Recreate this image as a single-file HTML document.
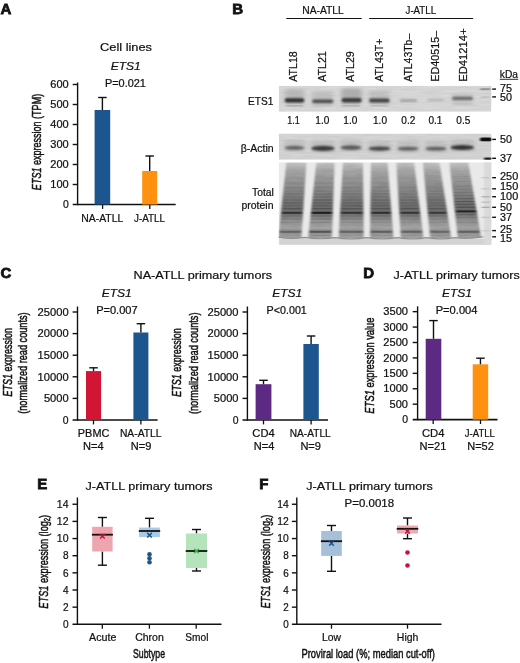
<!DOCTYPE html>
<html lang="en"><head><meta charset="utf-8"><title>ETS1 expression in ATLL</title>
<style>
html,body{margin:0;padding:0;background:#fff;}
body{width:520px;height:663px;overflow:hidden;font-family:"Liberation Sans", Arial, Helvetica, sans-serif;}
svg{display:block;will-change:transform;}
text{font-kerning:normal;stroke:#111;stroke-width:0.22px;}
</style></head><body>
<svg width="520" height="663" viewBox="0 0 520 663" font-family='"Liberation Sans", Arial, Helvetica, sans-serif'>
<defs>
<filter id="b1" x="-20%" y="-100%" width="140%" height="300%"><feGaussianBlur stdDeviation="1.1 0.9"/></filter>
<filter id="b2" x="-20%" y="-100%" width="140%" height="300%"><feGaussianBlur stdDeviation="0.8 0.6"/></filter>
<filter id="b3" x="-20%" y="-20%" width="140%" height="140%"><feGaussianBlur stdDeviation="2.2 1.2"/></filter>
<filter id="b4" x="-20%" y="-20%" width="140%" height="140%"><feGaussianBlur stdDeviation="1.1 0.7"/></filter>
<filter id="noise" x="0" y="0" width="100%" height="100%">
  <feTurbulence type="fractalNoise" baseFrequency="0.05 0.55" numOctaves="2" seed="7" result="n"/>
  <feColorMatrix in="n" type="matrix" values="0 0 0 0 0  0 0 0 0 0  0 0 0 0 0  1.6 0 0 0 -0.45"/>
  <feComposite in2="SourceGraphic" operator="in"/>
</filter>
<filter id="noise2" x="0" y="0" width="100%" height="100%">
  <feTurbulence type="fractalNoise" baseFrequency="0.09 0.4" numOctaves="2" seed="11" result="n"/>
  <feColorMatrix in="n" type="matrix" values="0 0 0 0 0  0 0 0 0 0  0 0 0 0 0  1.8 0 0 0 -0.5"/>
  <feComposite in2="SourceGraphic" operator="in"/>
</filter>
<linearGradient id="laneg" gradientUnits="userSpaceOnUse" x1="0" y1="162.5" x2="0" y2="238">
  <stop offset="0.000" stop-color="#cacaca"/>
  <stop offset="0.046" stop-color="#b8b8b8"/>
  <stop offset="0.113" stop-color="#a6a6a6"/>
  <stop offset="0.205" stop-color="#9a9a9a"/>
  <stop offset="0.311" stop-color="#8e8e8e"/>
  <stop offset="0.430" stop-color="#808080"/>
  <stop offset="0.536" stop-color="#727272"/>
  <stop offset="0.629" stop-color="#6c6c6c"/>
  <stop offset="0.695" stop-color="#767676"/>
  <stop offset="0.748" stop-color="#8c8c8c"/>
  <stop offset="0.815" stop-color="#9a9a9a"/>
  <stop offset="0.868" stop-color="#a6a6a6"/>
  <stop offset="0.918" stop-color="#848484"/>
  <stop offset="0.960" stop-color="#a4a4a4"/>
  <stop offset="1.000" stop-color="#9c9c9c"/>
</linearGradient>
<clipPath id="cE"><rect x="278.7" y="85.8" width="212.8" height="26"/></clipPath>
<clipPath id="cA"><rect x="278.7" y="133.6" width="212.8" height="26.1"/></clipPath>
<clipPath id="cT"><rect x="278.7" y="162.3" width="212.8" height="82.5"/></clipPath>
</defs>
<rect x="0" y="0" width="520" height="663" fill="#fff" />
<text x="0.5" y="13.7" font-size="15" text-anchor="start" font-weight="bold" fill="#111" style="stroke:#111;stroke-width:0.8px;stroke-linejoin:miter">A</text>
<text x="232.3" y="13.7" font-size="15" text-anchor="start" font-weight="bold" fill="#111" style="stroke:#111;stroke-width:0.8px;stroke-linejoin:miter">B</text>
<text x="0.5" y="278.3" font-size="15" text-anchor="start" font-weight="bold" fill="#111" style="stroke:#111;stroke-width:0.8px;stroke-linejoin:miter">C</text>
<text x="363.3" y="278.2" font-size="15" text-anchor="start" font-weight="bold" fill="#111" style="stroke:#111;stroke-width:0.8px;stroke-linejoin:miter">D</text>
<text x="37.3" y="489.1" font-size="15" text-anchor="start" font-weight="bold" fill="#111" style="stroke:#111;stroke-width:0.8px;stroke-linejoin:miter">E</text>
<text x="259.2" y="489.2" font-size="15" text-anchor="start" font-weight="bold" fill="#111" style="stroke:#111;stroke-width:0.8px;stroke-linejoin:miter">F</text>
<text x="126" y="50.8" font-size="11.6" text-anchor="middle" textLength="52" lengthAdjust="spacingAndGlyphs" fill="#111" >Cell lines</text>
<text x="125.8" y="69.5" font-size="11.7" text-anchor="middle" font-style="italic" textLength="30" lengthAdjust="spacingAndGlyphs" fill="#111" >ETS1</text>
<text x="125.4" y="86.6" font-size="10.1" text-anchor="middle" textLength="41" lengthAdjust="spacingAndGlyphs" fill="#111" >P=0.021</text>
<line x1="77.6" y1="82.5" x2="77.6" y2="205.2" stroke="#111" stroke-width="1.4"/>
<line x1="72.69999999999999" y1="204.5" x2="175.7" y2="204.5" stroke="#111" stroke-width="1.5999999999999999"/>
<text x="68.69999999999999" y="208.2" font-size="10.3" text-anchor="end" textLength="5.8" lengthAdjust="spacingAndGlyphs" fill="#111" >0</text>
<line x1="72.69999999999999" y1="184.5" x2="77.6" y2="184.5" stroke="#111" stroke-width="1.4"/>
<text x="68.69999999999999" y="188.2" font-size="10.3" text-anchor="end" textLength="18.4" lengthAdjust="spacingAndGlyphs" fill="#111" >100</text>
<line x1="72.69999999999999" y1="164.5" x2="77.6" y2="164.5" stroke="#111" stroke-width="1.4"/>
<text x="68.69999999999999" y="168.2" font-size="10.3" text-anchor="end" textLength="18.4" lengthAdjust="spacingAndGlyphs" fill="#111" >200</text>
<line x1="72.69999999999999" y1="144.5" x2="77.6" y2="144.5" stroke="#111" stroke-width="1.4"/>
<text x="68.69999999999999" y="148.2" font-size="10.3" text-anchor="end" textLength="18.4" lengthAdjust="spacingAndGlyphs" fill="#111" >300</text>
<line x1="72.69999999999999" y1="124.5" x2="77.6" y2="124.5" stroke="#111" stroke-width="1.4"/>
<text x="68.69999999999999" y="128.2" font-size="10.3" text-anchor="end" textLength="18.4" lengthAdjust="spacingAndGlyphs" fill="#111" >400</text>
<line x1="72.69999999999999" y1="104.5" x2="77.6" y2="104.5" stroke="#111" stroke-width="1.4"/>
<text x="68.69999999999999" y="108.2" font-size="10.3" text-anchor="end" textLength="18.4" lengthAdjust="spacingAndGlyphs" fill="#111" >500</text>
<line x1="72.69999999999999" y1="84.5" x2="77.6" y2="84.5" stroke="#111" stroke-width="1.4"/>
<text x="68.69999999999999" y="88.2" font-size="10.3" text-anchor="end" textLength="18.4" lengthAdjust="spacingAndGlyphs" fill="#111" >600</text>
<line x1="102.6" y1="204.5" x2="102.6" y2="208.9" stroke="#111" stroke-width="1.2999999999999998"/>
<line x1="149.8" y1="204.5" x2="149.8" y2="208.9" stroke="#111" stroke-width="1.2999999999999998"/>
<rect x="94.6" y="110" width="15.600000000000009" height="94.5" fill="#1d568f" />
<line x1="102.4" y1="97.5" x2="102.4" y2="110" stroke="#111" stroke-width="1.4"/>
<line x1="98.15" y1="97.5" x2="106.65" y2="97.5" stroke="#111" stroke-width="1.4"/>
<rect x="142.2" y="171" width="15.0" height="33.5" fill="#ff9110" />
<line x1="149.7" y1="156" x2="149.7" y2="171" stroke="#111" stroke-width="1.4"/>
<line x1="145.45" y1="156" x2="153.95" y2="156" stroke="#111" stroke-width="1.4"/>
<text x="102.3" y="222.3" font-size="10.5" text-anchor="middle" textLength="42" lengthAdjust="spacingAndGlyphs" fill="#111" >NA-ATLL</text>
<text x="149.5" y="222.3" font-size="10.5" text-anchor="middle" textLength="31" lengthAdjust="spacingAndGlyphs" fill="#111" >J-ATLL</text>
<text transform="translate(40.6,142) rotate(-90)" font-size="13.5" text-anchor="middle" textLength="96.3" lengthAdjust="spacingAndGlyphs" style="stroke-width:0.5px" fill="#111" ><tspan font-style="italic">ETS1</tspan> expression (TPM)</text>
<text x="323" y="13.8" font-size="10.8" text-anchor="middle" textLength="41.5" lengthAdjust="spacingAndGlyphs" fill="#111" >NA-ATLL</text>
<text x="420.8" y="13.8" font-size="10.8" text-anchor="middle" textLength="30.5" lengthAdjust="spacingAndGlyphs" fill="#111" >J-ATLL</text>
<line x1="286.3" y1="18.5" x2="361.7" y2="18.5" stroke="#111" stroke-width="1.1"/>
<line x1="369.2" y1="18.5" x2="473.2" y2="18.5" stroke="#111" stroke-width="1.1"/>
<text transform="translate(297.3,81.8) rotate(-90)" font-size="10.8" text-anchor="start" textLength="30.6" lengthAdjust="spacingAndGlyphs" fill="#111" >ATL18</text>
<text transform="translate(325.5,81.8) rotate(-90)" font-size="10.8" text-anchor="start" textLength="30.6" lengthAdjust="spacingAndGlyphs" fill="#111" >ATL21</text>
<text transform="translate(354.2,81.8) rotate(-90)" font-size="10.8" text-anchor="start" textLength="30.6" lengthAdjust="spacingAndGlyphs" fill="#111" >ATL29</text>
<text transform="translate(383.1,81.8) rotate(-90)" font-size="10.8" text-anchor="start" textLength="43.3" lengthAdjust="spacingAndGlyphs" fill="#111" >ATL43T+</text>
<text transform="translate(411.8,81.8) rotate(-90)" font-size="10.8" text-anchor="start" textLength="48" lengthAdjust="spacingAndGlyphs" fill="#111" >ATL43Tb–</text>
<text transform="translate(439.3,81.8) rotate(-90)" font-size="10.8" text-anchor="start" textLength="51" lengthAdjust="spacingAndGlyphs" fill="#111" >ED40515–</text>
<text transform="translate(467,81.8) rotate(-90)" font-size="10.8" text-anchor="start" textLength="53.5" lengthAdjust="spacingAndGlyphs" fill="#111" >ED41214+</text>
<text x="499.8" y="77.6" font-size="10.8" text-anchor="start" textLength="18.2" lengthAdjust="spacingAndGlyphs" fill="#111" >kDa</text>
<line x1="499.8" y1="79.3" x2="518.2" y2="79.3" stroke="#111" stroke-width="0.9"/>
<g clip-path="url(#cE)">
<rect x="278.7" y="85.8" width="212.8" height="26" fill="#d9d9d9" />
<rect x="278.7" y="85.8" width="212.8" height="26" fill="#000" filter="url(#noise)" opacity="0.05"/>
<rect x="284.8" y="90.3" width="19.399999999999977" height="14" fill="#aaa" filter="url(#b3)" opacity="0.5"/>
<rect x="312.2" y="91.2" width="21.0" height="14" fill="#aaa" filter="url(#b3)" opacity="0.5"/>
<rect x="341.6" y="90.2" width="20.0" height="14" fill="#aaa" filter="url(#b3)" opacity="0.5"/>
<rect x="369.2" y="90.5" width="20.400000000000034" height="14" fill="#aaa" filter="url(#b3)" opacity="0.5"/>
<rect x="342" y="88" width="19" height="10" fill="#999" filter="url(#b3)" opacity="0.45"/>
<rect x="286" y="88" width="17" height="9" fill="#aaa" filter="url(#b3)" opacity="0.35"/>
<rect x="452" y="93" width="21" height="12" fill="#b8b8b8" filter="url(#b3)" opacity="0.5"/>
<rect x="284.8" y="98.2" width="19.4" height="4.2" fill="#2a2a2a" filter="url(#b1)" rx="2.1"/>
<rect x="312.2" y="99.5" width="21.0" height="3.4" fill="#4a4a4a" filter="url(#b1)" rx="1.7"/>
<rect x="341.6" y="97.9" width="20.0" height="4.6" fill="#383838" filter="url(#b1)" rx="2.3"/>
<rect x="369.2" y="98.6" width="20.4" height="3.8" fill="#404040" filter="url(#b1)" rx="1.9"/>
<rect x="399.8" y="99.3" width="17.2" height="2.6" fill="#a2a2a2" filter="url(#b1)" rx="1.3"/>
<rect x="427.4" y="98.9" width="16.2" height="2.4" fill="#b2b2b2" filter="url(#b1)" rx="1.2"/>
<rect x="452.2" y="96.7" width="20.6" height="3.4" fill="#666" filter="url(#b1)" rx="1.7"/>
<rect x="286" y="105.2" width="17" height="1.4" fill="#a8a8a8" filter="url(#b2)"/>
<rect x="313" y="105.4" width="19" height="1.2" fill="#bcbcbc" filter="url(#b2)"/>
<rect x="342" y="105.2" width="18" height="1.4" fill="#acacac" filter="url(#b2)"/>
<rect x="370" y="105.2" width="18" height="1.3" fill="#b6b6b6" filter="url(#b2)"/>
<rect x="454" y="103.2" width="17" height="1.3" fill="#c0c0c0" filter="url(#b2)"/>
<rect x="480.3" y="88.2" width="10.2" height="2.0" fill="#929292" filter="url(#b2)"/>
<rect x="481" y="96.4" width="9" height="1.4" fill="#bcbcbc" filter="url(#b2)"/>
</g>
<text x="273.5" y="105" font-size="10.8" text-anchor="end" textLength="25.4" lengthAdjust="spacingAndGlyphs" fill="#111" >ETS1</text>
<text x="293.5" y="123.6" font-size="10.3" text-anchor="middle" textLength="12.5" lengthAdjust="spacingAndGlyphs" fill="#111" >1.1</text>
<text x="322.3" y="123.6" font-size="10.3" text-anchor="middle" textLength="14" lengthAdjust="spacingAndGlyphs" fill="#111" >1.0</text>
<text x="350.3" y="123.6" font-size="10.3" text-anchor="middle" textLength="14" lengthAdjust="spacingAndGlyphs" fill="#111" >1.0</text>
<text x="380" y="123.6" font-size="10.3" text-anchor="middle" textLength="14" lengthAdjust="spacingAndGlyphs" fill="#111" >1.0</text>
<text x="408.3" y="123.6" font-size="10.3" text-anchor="middle" textLength="14" lengthAdjust="spacingAndGlyphs" fill="#111" >0.2</text>
<text x="435.4" y="123.6" font-size="10.3" text-anchor="middle" textLength="14" lengthAdjust="spacingAndGlyphs" fill="#111" >0.1</text>
<text x="463.3" y="123.6" font-size="10.3" text-anchor="middle" textLength="14" lengthAdjust="spacingAndGlyphs" fill="#111" >0.5</text>
<line x1="492.2" y1="89.1" x2="496" y2="89.1" stroke="#111" stroke-width="1.4"/>
<text x="500" y="92.1" font-size="10.3" text-anchor="start" textLength="12" lengthAdjust="spacingAndGlyphs" fill="#111" >75</text>
<line x1="492.2" y1="96.9" x2="496" y2="96.9" stroke="#111" stroke-width="1.4"/>
<text x="500" y="101.39999999999999" font-size="10.3" text-anchor="start" textLength="12" lengthAdjust="spacingAndGlyphs" fill="#111" >50</text>
<g clip-path="url(#cA)">
<rect x="278.7" y="133.6" width="212.8" height="26.2" fill="#d6d6d6" />
<rect x="278.7" y="133" width="212.8" height="27.5" fill="#000" filter="url(#noise)" opacity="0.05"/>
<rect x="284" y="139.8" width="21" height="12" fill="#b0b0b0" filter="url(#b3)" opacity="0.5"/>
<rect x="311" y="140.4" width="24" height="12" fill="#b0b0b0" filter="url(#b3)" opacity="0.5"/>
<rect x="340" y="139.6" width="22" height="12" fill="#b0b0b0" filter="url(#b3)" opacity="0.5"/>
<rect x="368" y="140.6" width="23" height="12" fill="#b0b0b0" filter="url(#b3)" opacity="0.5"/>
<rect x="397" y="140.6" width="22" height="12" fill="#b0b0b0" filter="url(#b3)" opacity="0.5"/>
<rect x="425" y="140.7" width="22" height="12" fill="#b0b0b0" filter="url(#b3)" opacity="0.5"/>
<rect x="450" y="139.5" width="24.5" height="12" fill="#b0b0b0" filter="url(#b3)" opacity="0.5"/>
<ellipse cx="294.5" cy="147.8" rx="10.1" ry="2.0" fill="#606060" filter="url(#b1)"/>
<ellipse cx="323.0" cy="148.4" rx="11.6" ry="2.6" fill="#3a3a3a" filter="url(#b1)"/>
<ellipse cx="351.0" cy="147.6" rx="10.6" ry="2.3" fill="#5a5a5a" filter="url(#b1)"/>
<ellipse cx="379.5" cy="148.6" rx="11.1" ry="2.1" fill="#444" filter="url(#b1)"/>
<ellipse cx="408.0" cy="148.6" rx="10.6" ry="1.9" fill="#5c5c5c" filter="url(#b1)"/>
<ellipse cx="436.0" cy="148.7" rx="10.6" ry="1.9" fill="#5c5c5c" filter="url(#b1)"/>
<ellipse cx="462.25" cy="147.5" rx="11.85" ry="2.4" fill="#303030" filter="url(#b1)"/>
<rect x="480" y="137.6" width="12" height="3.6" fill="#111" filter="url(#b2)" rx="1.5"/>
<rect x="484" y="157.6" width="8" height="2.4" fill="#222" filter="url(#b2)" rx="1"/>
</g>
<text x="273.7" y="152.2" font-size="10.8" text-anchor="end" textLength="33" lengthAdjust="spacingAndGlyphs" fill="#111" >β-Actin</text>
<line x1="492.2" y1="139.4" x2="496" y2="139.4" stroke="#111" stroke-width="1.4"/>
<text x="500" y="143.1" font-size="10.3" text-anchor="start" textLength="12" lengthAdjust="spacingAndGlyphs" fill="#111" >50</text>
<line x1="492.2" y1="158.3" x2="496" y2="158.3" stroke="#111" stroke-width="1.4"/>
<text x="500" y="162.0" font-size="10.3" text-anchor="start" textLength="12" lengthAdjust="spacingAndGlyphs" fill="#111" >37</text>
<g clip-path="url(#cT)">
<rect x="278.7" y="162.3" width="212.8" height="82.5" fill="#e9e9e9" />
<rect x="278.7" y="238.8" width="212.8" height="7" fill="#d3d3d3" filter="url(#b2)"/>
<rect x="484" y="162.3" width="8" height="82.5" fill="#dadada" filter="url(#b4)"/>
<g filter="url(#b4)">
<polygon points="286.29999999999995,162.5 306.40000000000003,162.5 301.5,238.0 278.2,238.0" fill="url(#laneg)"/>
<polygon points="316.29999999999995,162.5 334.6,162.5 332.0,238.0 308.0,238.0" fill="url(#laneg)"/>
<polygon points="342.9,162.5 363.0,162.5 363.8,238.0 338.5,238.0" fill="url(#laneg)"/>
<polygon points="370.9,162.5 387.6,162.5 393.5,238.0 369.9,238.0" fill="url(#laneg)"/>
<polygon points="396.29999999999995,162.5 414.1,162.5 423.5,238.0 400.7,238.0" fill="url(#laneg)"/>
<polygon points="422.9,162.5 439.5,162.5 451.3,238.0 430.0,238.0" fill="url(#laneg)"/>
<polygon points="449.4,162.5 468.3,162.5 481.3,238.0 457.7,238.0" fill="url(#laneg)"/>
</g>
<rect x="285.8" y="177.5" width="18.5" height="1.0" fill="#141414" filter="url(#b2)" opacity="0.04"/>
<rect x="285.2" y="182.5" width="18.7" height="1.0" fill="#141414" filter="url(#b2)" opacity="0.06"/>
<rect x="284.7" y="186.9" width="18.8" height="1.2" fill="#141414" filter="url(#b2)" opacity="0.07"/>
<rect x="284.4" y="190.5" width="19.0" height="1.0" fill="#141414" filter="url(#b2)" opacity="0.08"/>
<rect x="284.1" y="193.4" width="19.1" height="1.2" fill="#141414" filter="url(#b2)" opacity="0.10"/>
<rect x="283.7" y="196.5" width="19.2" height="1.0" fill="#141414" filter="url(#b2)" opacity="0.10"/>
<rect x="283.4" y="199.4" width="19.3" height="1.2" fill="#141414" filter="url(#b2)" opacity="0.13"/>
<rect x="283.1" y="202.4" width="19.4" height="1.2" fill="#141414" filter="url(#b2)" opacity="0.19"/>
<rect x="282.8" y="205.3" width="19.5" height="1.0" fill="#141414" filter="url(#b2)" opacity="0.16"/>
<rect x="282.5" y="208.0" width="19.6" height="1.2" fill="#141414" filter="url(#b2)" opacity="0.21"/>
<rect x="282.1" y="211.8" width="19.8" height="2.0" fill="#141414" filter="url(#b2)" opacity="0.68"/>
<rect x="281.7" y="215.5" width="19.9" height="1.0" fill="#141414" filter="url(#b2)" opacity="0.15"/>
<rect x="281.4" y="218.5" width="20.0" height="1.0" fill="#141414" filter="url(#b2)" opacity="0.13"/>
<rect x="281.0" y="222.0" width="20.2" height="1.0" fill="#141414" filter="url(#b2)" opacity="0.08"/>
<rect x="280.1" y="230.8" width="20.5" height="2.0" fill="#141414" filter="url(#b2)" opacity="0.30"/>
<rect x="279.7" y="234.7" width="20.6" height="1.0" fill="#141414" filter="url(#b2)" opacity="0.10"/>
<rect x="315.7" y="177.5" width="17.2" height="1.0" fill="#141414" filter="url(#b2)" opacity="0.07"/>
<rect x="315.2" y="182.5" width="17.6" height="1.0" fill="#141414" filter="url(#b2)" opacity="0.09"/>
<rect x="314.7" y="186.9" width="17.9" height="1.2" fill="#141414" filter="url(#b2)" opacity="0.10"/>
<rect x="314.3" y="190.5" width="18.1" height="1.0" fill="#141414" filter="url(#b2)" opacity="0.11"/>
<rect x="314.0" y="193.4" width="18.3" height="1.2" fill="#141414" filter="url(#b2)" opacity="0.14"/>
<rect x="313.6" y="196.5" width="18.6" height="1.0" fill="#141414" filter="url(#b2)" opacity="0.14"/>
<rect x="313.3" y="199.4" width="18.8" height="1.2" fill="#141414" filter="url(#b2)" opacity="0.22"/>
<rect x="313.0" y="202.4" width="19.0" height="1.2" fill="#141414" filter="url(#b2)" opacity="0.24"/>
<rect x="312.7" y="205.3" width="19.2" height="1.0" fill="#141414" filter="url(#b2)" opacity="0.22"/>
<rect x="312.4" y="208.0" width="19.4" height="1.2" fill="#141414" filter="url(#b2)" opacity="0.27"/>
<rect x="311.9" y="211.8" width="19.7" height="2.0" fill="#141414" filter="url(#b2)" opacity="0.89"/>
<rect x="311.6" y="215.5" width="19.9" height="1.0" fill="#141414" filter="url(#b2)" opacity="0.21"/>
<rect x="311.3" y="218.5" width="20.1" height="1.0" fill="#141414" filter="url(#b2)" opacity="0.17"/>
<rect x="310.9" y="222.0" width="20.4" height="1.0" fill="#141414" filter="url(#b2)" opacity="0.12"/>
<rect x="309.9" y="230.8" width="21.0" height="2.0" fill="#141414" filter="url(#b2)" opacity="0.42"/>
<rect x="309.5" y="234.7" width="21.3" height="1.0" fill="#141414" filter="url(#b2)" opacity="0.18"/>
<rect x="343.1" y="177.5" width="18.9" height="1.0" fill="#141414" filter="url(#b2)" opacity="0.05"/>
<rect x="342.8" y="182.5" width="19.2" height="1.0" fill="#141414" filter="url(#b2)" opacity="0.07"/>
<rect x="342.6" y="186.9" width="19.5" height="1.2" fill="#141414" filter="url(#b2)" opacity="0.08"/>
<rect x="342.4" y="190.5" width="19.7" height="1.0" fill="#141414" filter="url(#b2)" opacity="0.09"/>
<rect x="342.2" y="193.4" width="19.9" height="1.2" fill="#141414" filter="url(#b2)" opacity="0.11"/>
<rect x="342.1" y="196.5" width="20.1" height="1.0" fill="#141414" filter="url(#b2)" opacity="0.11"/>
<rect x="341.9" y="199.4" width="20.3" height="1.2" fill="#141414" filter="url(#b2)" opacity="0.14"/>
<rect x="341.7" y="202.4" width="20.5" height="1.2" fill="#141414" filter="url(#b2)" opacity="0.16"/>
<rect x="341.6" y="205.3" width="20.7" height="1.0" fill="#141414" filter="url(#b2)" opacity="0.21"/>
<rect x="341.4" y="208.0" width="20.9" height="1.2" fill="#141414" filter="url(#b2)" opacity="0.24"/>
<rect x="341.2" y="211.8" width="21.1" height="2.0" fill="#141414" filter="url(#b2)" opacity="0.64"/>
<rect x="341.0" y="215.5" width="21.3" height="1.0" fill="#141414" filter="url(#b2)" opacity="0.15"/>
<rect x="340.8" y="218.5" width="21.5" height="1.0" fill="#141414" filter="url(#b2)" opacity="0.12"/>
<rect x="340.6" y="222.0" width="21.8" height="1.0" fill="#141414" filter="url(#b2)" opacity="0.08"/>
<rect x="340.1" y="230.8" width="22.4" height="2.0" fill="#141414" filter="url(#b2)" opacity="0.29"/>
<rect x="339.9" y="234.7" width="22.6" height="1.0" fill="#141414" filter="url(#b2)" opacity="0.12"/>
<rect x="371.8" y="177.5" width="15.9" height="1.0" fill="#141414" filter="url(#b2)" opacity="0.05"/>
<rect x="371.8" y="182.5" width="16.3" height="1.0" fill="#141414" filter="url(#b2)" opacity="0.07"/>
<rect x="371.7" y="186.9" width="16.7" height="1.2" fill="#141414" filter="url(#b2)" opacity="0.08"/>
<rect x="371.7" y="190.5" width="17.0" height="1.0" fill="#141414" filter="url(#b2)" opacity="0.09"/>
<rect x="371.7" y="193.4" width="17.2" height="1.2" fill="#141414" filter="url(#b2)" opacity="0.11"/>
<rect x="371.6" y="196.5" width="17.5" height="1.0" fill="#141414" filter="url(#b2)" opacity="0.14"/>
<rect x="371.6" y="199.4" width="17.8" height="1.2" fill="#141414" filter="url(#b2)" opacity="0.17"/>
<rect x="371.6" y="202.4" width="18.0" height="1.2" fill="#141414" filter="url(#b2)" opacity="0.16"/>
<rect x="371.5" y="205.3" width="18.3" height="1.0" fill="#141414" filter="url(#b2)" opacity="0.20"/>
<rect x="371.5" y="208.0" width="18.5" height="1.2" fill="#141414" filter="url(#b2)" opacity="0.27"/>
<rect x="371.5" y="211.8" width="18.9" height="2.0" fill="#141414" filter="url(#b2)" opacity="0.70"/>
<rect x="371.4" y="215.5" width="19.2" height="1.0" fill="#141414" filter="url(#b2)" opacity="0.16"/>
<rect x="371.4" y="218.5" width="19.4" height="1.0" fill="#141414" filter="url(#b2)" opacity="0.13"/>
<rect x="371.4" y="222.0" width="19.7" height="1.0" fill="#141414" filter="url(#b2)" opacity="0.07"/>
<rect x="371.3" y="230.8" width="20.5" height="2.0" fill="#141414" filter="url(#b2)" opacity="0.33"/>
<rect x="371.2" y="234.7" width="20.8" height="1.0" fill="#141414" filter="url(#b2)" opacity="0.12"/>
<rect x="398.4" y="177.5" width="16.6" height="1.0" fill="#141414" filter="url(#b2)" opacity="0.04"/>
<rect x="398.7" y="182.5" width="16.9" height="1.0" fill="#141414" filter="url(#b2)" opacity="0.05"/>
<rect x="398.9" y="186.9" width="17.1" height="1.2" fill="#141414" filter="url(#b2)" opacity="0.08"/>
<rect x="399.2" y="190.5" width="17.4" height="1.0" fill="#141414" filter="url(#b2)" opacity="0.08"/>
<rect x="399.3" y="193.4" width="17.5" height="1.2" fill="#141414" filter="url(#b2)" opacity="0.08"/>
<rect x="399.5" y="196.5" width="17.7" height="1.0" fill="#141414" filter="url(#b2)" opacity="0.12"/>
<rect x="399.7" y="199.4" width="17.9" height="1.2" fill="#141414" filter="url(#b2)" opacity="0.14"/>
<rect x="399.9" y="202.4" width="18.1" height="1.2" fill="#141414" filter="url(#b2)" opacity="0.15"/>
<rect x="400.1" y="205.3" width="18.3" height="1.0" fill="#141414" filter="url(#b2)" opacity="0.15"/>
<rect x="400.2" y="208.0" width="18.4" height="1.2" fill="#141414" filter="url(#b2)" opacity="0.23"/>
<rect x="400.5" y="211.8" width="18.7" height="2.0" fill="#141414" filter="url(#b2)" opacity="0.62"/>
<rect x="400.7" y="215.5" width="18.9" height="1.0" fill="#141414" filter="url(#b2)" opacity="0.12"/>
<rect x="400.9" y="218.5" width="19.1" height="1.0" fill="#141414" filter="url(#b2)" opacity="0.11"/>
<rect x="401.1" y="222.0" width="19.3" height="1.0" fill="#141414" filter="url(#b2)" opacity="0.06"/>
<rect x="401.7" y="230.8" width="19.9" height="2.0" fill="#141414" filter="url(#b2)" opacity="0.29"/>
<rect x="401.9" y="234.7" width="20.1" height="1.0" fill="#141414" filter="url(#b2)" opacity="0.10"/>
<rect x="425.5" y="177.5" width="15.3" height="1.0" fill="#141414" filter="url(#b2)" opacity="0.05"/>
<rect x="426.0" y="182.5" width="15.6" height="1.0" fill="#141414" filter="url(#b2)" opacity="0.06"/>
<rect x="426.4" y="186.9" width="15.8" height="1.2" fill="#141414" filter="url(#b2)" opacity="0.07"/>
<rect x="426.8" y="190.5" width="16.0" height="1.0" fill="#141414" filter="url(#b2)" opacity="0.08"/>
<rect x="427.1" y="193.4" width="16.2" height="1.2" fill="#141414" filter="url(#b2)" opacity="0.08"/>
<rect x="427.4" y="196.5" width="16.4" height="1.0" fill="#141414" filter="url(#b2)" opacity="0.09"/>
<rect x="427.7" y="199.4" width="16.6" height="1.2" fill="#141414" filter="url(#b2)" opacity="0.15"/>
<rect x="428.0" y="202.4" width="16.7" height="1.2" fill="#141414" filter="url(#b2)" opacity="0.14"/>
<rect x="428.2" y="205.3" width="16.9" height="1.0" fill="#141414" filter="url(#b2)" opacity="0.15"/>
<rect x="428.5" y="208.0" width="17.1" height="1.2" fill="#141414" filter="url(#b2)" opacity="0.21"/>
<rect x="428.9" y="211.8" width="17.3" height="2.0" fill="#141414" filter="url(#b2)" opacity="0.58"/>
<rect x="429.2" y="215.5" width="17.5" height="1.0" fill="#141414" filter="url(#b2)" opacity="0.13"/>
<rect x="429.5" y="218.5" width="17.7" height="1.0" fill="#141414" filter="url(#b2)" opacity="0.09"/>
<rect x="429.9" y="222.0" width="17.9" height="1.0" fill="#141414" filter="url(#b2)" opacity="0.08"/>
<rect x="430.8" y="230.8" width="18.4" height="2.0" fill="#141414" filter="url(#b2)" opacity="0.25"/>
<rect x="431.1" y="234.7" width="18.6" height="1.0" fill="#141414" filter="url(#b2)" opacity="0.12"/>
<rect x="452.3" y="176.1" width="17.6" height="1.0" fill="#141414" filter="url(#b2)" opacity="0.05"/>
<rect x="452.8" y="181.1" width="17.9" height="1.0" fill="#141414" filter="url(#b2)" opacity="0.05"/>
<rect x="453.4" y="185.5" width="18.1" height="1.2" fill="#141414" filter="url(#b2)" opacity="0.07"/>
<rect x="453.8" y="189.1" width="18.3" height="1.0" fill="#141414" filter="url(#b2)" opacity="0.07"/>
<rect x="454.1" y="192.0" width="18.5" height="1.2" fill="#141414" filter="url(#b2)" opacity="0.09"/>
<rect x="454.4" y="195.1" width="18.7" height="1.0" fill="#141414" filter="url(#b2)" opacity="0.11"/>
<rect x="454.8" y="198.0" width="18.9" height="1.2" fill="#141414" filter="url(#b2)" opacity="0.22"/>
<rect x="455.1" y="201.0" width="19.0" height="1.2" fill="#141414" filter="url(#b2)" opacity="0.25"/>
<rect x="455.4" y="203.9" width="19.2" height="1.0" fill="#141414" filter="url(#b2)" opacity="0.28"/>
<rect x="455.8" y="206.6" width="19.4" height="1.2" fill="#141414" filter="url(#b2)" opacity="0.32"/>
<rect x="456.2" y="210.4" width="19.6" height="2.0" fill="#141414" filter="url(#b2)" opacity="0.82"/>
<rect x="456.6" y="214.1" width="19.8" height="1.0" fill="#141414" filter="url(#b2)" opacity="0.15"/>
<rect x="456.9" y="217.1" width="20.0" height="1.0" fill="#141414" filter="url(#b2)" opacity="0.10"/>
<rect x="457.3" y="222.0" width="20.2" height="1.0" fill="#141414" filter="url(#b2)" opacity="0.07"/>
<rect x="458.4" y="230.8" width="20.7" height="2.0" fill="#141414" filter="url(#b2)" opacity="0.31"/>
<rect x="458.8" y="234.7" width="20.9" height="1.0" fill="#141414" filter="url(#b2)" opacity="0.11"/>
<path d="M277 236.8 Q291 239.6 304.5 237.4 Q320 240 335 237.6 Q351 240 367 237.6 Q383 240 397 237.6 Q413 240 427 237.6 Q441 240 454.5 237.6 Q469 239.6 483 236.6" fill="none" stroke="#8e8e8e" stroke-width="1.2" filter="url(#b2)"/>
<clipPath id="cL">
<polygon points="286.4,162.5 306.3,162.5 301.2,237.0 278.5,237.0"/>
<polygon points="316.4,162.5 334.5,162.5 331.7,237.0 308.3,237.0"/>
<polygon points="343,162.5 362.9,162.5 363.5,237.0 338.8,237.0"/>
<polygon points="371,162.5 387.5,162.5 393.2,237.0 370.2,237.0"/>
<polygon points="396.4,162.5 414,162.5 423.2,237.0 401,237.0"/>
<polygon points="423,162.5 439.4,162.5 451,237.0 430.3,237.0"/>
<polygon points="449.5,162.5 468.2,162.5 481,237.0 458,237.0"/>
</clipPath>
<rect x="278.7" y="162.3" width="212.8" height="75" fill="#000" filter="url(#noise2)" opacity="0.05" clip-path="url(#cL)"/>
<rect x="481.5" y="177.1" width="8.5" height="1.3" fill="#c6c6c6" filter="url(#b2)"/>
<rect x="481.5" y="188.20000000000002" width="8.5" height="1.3" fill="#c8c8c8" filter="url(#b2)"/>
<rect x="481.5" y="196.1" width="8.5" height="1.3" fill="#b0b0b0" filter="url(#b2)"/>
<rect x="481.5" y="201.5" width="8.5" height="1.3" fill="#bcbcbc" filter="url(#b2)"/>
<rect x="481.5" y="206.70000000000002" width="8.5" height="1.3" fill="#aaaaaa" filter="url(#b2)"/>
<rect x="481.5" y="216.70000000000002" width="8.5" height="1.3" fill="#c4c4c4" filter="url(#b2)"/>
<rect x="481.5" y="230.1" width="8.5" height="1.3" fill="#c8c8c8" filter="url(#b2)"/>
</g>
<text x="273.9" y="196.3" font-size="10.8" text-anchor="end" textLength="21.8" lengthAdjust="spacingAndGlyphs" fill="#111" >Total</text>
<text x="273.5" y="209.2" font-size="10.8" text-anchor="end" textLength="32" lengthAdjust="spacingAndGlyphs" fill="#111" >protein</text>
<line x1="492.2" y1="177.7" x2="496" y2="177.7" stroke="#111" stroke-width="1.4"/>
<line x1="492.2" y1="188.8" x2="496" y2="188.8" stroke="#111" stroke-width="1.4"/>
<line x1="492.2" y1="196.7" x2="496" y2="196.7" stroke="#111" stroke-width="1.4"/>
<line x1="492.2" y1="207.3" x2="496" y2="207.3" stroke="#111" stroke-width="1.4"/>
<line x1="492.2" y1="217.3" x2="496" y2="217.3" stroke="#111" stroke-width="1.4"/>
<line x1="492.2" y1="230.6" x2="496" y2="230.6" stroke="#111" stroke-width="1.4"/>
<line x1="492.2" y1="236.8" x2="496" y2="236.8" stroke="#111" stroke-width="1.4"/>
<text x="500" y="179.9" font-size="10.3" text-anchor="start" textLength="18.2" lengthAdjust="spacingAndGlyphs" fill="#111" >250</text>
<text x="500" y="190.1" font-size="10.3" text-anchor="start" textLength="18.2" lengthAdjust="spacingAndGlyphs" fill="#111" >150</text>
<text x="500" y="200.0" font-size="10.3" text-anchor="start" textLength="18.2" lengthAdjust="spacingAndGlyphs" fill="#111" >100</text>
<text x="500" y="210.5" font-size="10.3" text-anchor="start" textLength="12.0" lengthAdjust="spacingAndGlyphs" fill="#111" >50</text>
<text x="500" y="220.7" font-size="10.3" text-anchor="start" textLength="12.0" lengthAdjust="spacingAndGlyphs" fill="#111" >37</text>
<text x="500" y="232.9" font-size="10.3" text-anchor="start" textLength="12.0" lengthAdjust="spacingAndGlyphs" fill="#111" >25</text>
<text x="500" y="241.7" font-size="10.3" text-anchor="start" textLength="12.0" lengthAdjust="spacingAndGlyphs" fill="#111" >15</text>
<text x="202.75" y="278.5" font-size="11.6" text-anchor="middle" textLength="138.5" lengthAdjust="spacingAndGlyphs" fill="#111" >NA-ATLL primary tumors</text>
<text x="116.8" y="296.6" font-size="11.7" text-anchor="middle" font-style="italic" textLength="30" lengthAdjust="spacingAndGlyphs" fill="#111" >ETS1</text>
<text x="116.9" y="313.9" font-size="10.1" text-anchor="middle" textLength="41.5" lengthAdjust="spacingAndGlyphs" fill="#111" >P=0.007</text>
<line x1="77.5" y1="306.5" x2="77.5" y2="420.7" stroke="#111" stroke-width="1.4"/>
<line x1="72.6" y1="420.0" x2="157.6" y2="420.0" stroke="#111" stroke-width="1.5999999999999999"/>
<text x="68.6" y="423.7" font-size="10.3" text-anchor="end" textLength="5.8" lengthAdjust="spacingAndGlyphs" fill="#111" >0</text>
<line x1="72.6" y1="398.4" x2="77.5" y2="398.4" stroke="#111" stroke-width="1.4"/>
<text x="68.6" y="402.09999999999997" font-size="10.3" text-anchor="end" textLength="24.7" lengthAdjust="spacingAndGlyphs" fill="#111" >5000</text>
<line x1="72.6" y1="376.8" x2="77.5" y2="376.8" stroke="#111" stroke-width="1.4"/>
<text x="68.6" y="380.5" font-size="10.3" text-anchor="end" textLength="31.0" lengthAdjust="spacingAndGlyphs" fill="#111" >10000</text>
<line x1="72.6" y1="355.2" x2="77.5" y2="355.2" stroke="#111" stroke-width="1.4"/>
<text x="68.6" y="358.9" font-size="10.3" text-anchor="end" textLength="31.0" lengthAdjust="spacingAndGlyphs" fill="#111" >15000</text>
<line x1="72.6" y1="333.6" x2="77.5" y2="333.6" stroke="#111" stroke-width="1.4"/>
<text x="68.6" y="337.3" font-size="10.3" text-anchor="end" textLength="31.0" lengthAdjust="spacingAndGlyphs" fill="#111" >20000</text>
<line x1="72.6" y1="312.0" x2="77.5" y2="312.0" stroke="#111" stroke-width="1.4"/>
<text x="68.6" y="315.7" font-size="10.3" text-anchor="end" textLength="31.0" lengthAdjust="spacingAndGlyphs" fill="#111" >25000</text>
<line x1="93.5" y1="420.0" x2="93.5" y2="424.4" stroke="#111" stroke-width="1.2999999999999998"/>
<line x1="140.9" y1="420.0" x2="140.9" y2="424.4" stroke="#111" stroke-width="1.2999999999999998"/>
<rect x="86" y="371.1" width="15.099999999999994" height="48.89999999999998" fill="#d01535" />
<line x1="93.55" y1="367.8" x2="93.55" y2="371.1" stroke="#111" stroke-width="1.4"/>
<line x1="89.3" y1="367.8" x2="97.8" y2="367.8" stroke="#111" stroke-width="1.4"/>
<rect x="133.4" y="332.5" width="15.0" height="87.5" fill="#1d568f" />
<line x1="140.9" y1="323.7" x2="140.9" y2="332.5" stroke="#111" stroke-width="1.4"/>
<line x1="136.65" y1="323.7" x2="145.15" y2="323.7" stroke="#111" stroke-width="1.4"/>
<text x="93.6" y="436.7" font-size="10.4" text-anchor="middle" textLength="31.5" lengthAdjust="spacingAndGlyphs" fill="#111" >PBMC</text>
<text x="140.7" y="436.7" font-size="10.4" text-anchor="middle" textLength="41.6" lengthAdjust="spacingAndGlyphs" fill="#111" >NA-ATLL</text>
<text x="93.4" y="449.8" font-size="10.4" text-anchor="middle" textLength="20.6" lengthAdjust="spacingAndGlyphs" fill="#111" >N=4</text>
<text x="141" y="449.8" font-size="10.4" text-anchor="middle" textLength="20.6" lengthAdjust="spacingAndGlyphs" fill="#111" >N=9</text>
<text transform="translate(11.9,362.3) rotate(-90)" font-size="13.5" text-anchor="middle" textLength="68.5" lengthAdjust="spacingAndGlyphs" style="stroke-width:0.5px" fill="#111" ><tspan font-style="italic">ETS1</tspan> expression</text>
<text transform="translate(27.2,363.1) rotate(-90)" font-size="13.5" text-anchor="middle" textLength="101.5" lengthAdjust="spacingAndGlyphs" style="stroke-width:0.5px" fill="#111" >(normalized read counts)</text>
<text x="287.2" y="296.6" font-size="11.7" text-anchor="middle" font-style="italic" textLength="30" lengthAdjust="spacingAndGlyphs" fill="#111" >ETS1</text>
<text x="286.7" y="314" font-size="10.1" text-anchor="middle" textLength="40.2" lengthAdjust="spacingAndGlyphs" fill="#111" >P&lt;0.001</text>
<line x1="247.4" y1="306.5" x2="247.4" y2="420.7" stroke="#111" stroke-width="1.4"/>
<line x1="242.5" y1="420.0" x2="328" y2="420.0" stroke="#111" stroke-width="1.5999999999999999"/>
<text x="238.5" y="423.7" font-size="10.3" text-anchor="end" textLength="5.8" lengthAdjust="spacingAndGlyphs" fill="#111" >0</text>
<line x1="242.5" y1="398.4" x2="247.4" y2="398.4" stroke="#111" stroke-width="1.4"/>
<text x="238.5" y="402.09999999999997" font-size="10.3" text-anchor="end" textLength="24.7" lengthAdjust="spacingAndGlyphs" fill="#111" >5000</text>
<line x1="242.5" y1="376.8" x2="247.4" y2="376.8" stroke="#111" stroke-width="1.4"/>
<text x="238.5" y="380.5" font-size="10.3" text-anchor="end" textLength="31.0" lengthAdjust="spacingAndGlyphs" fill="#111" >10000</text>
<line x1="242.5" y1="355.2" x2="247.4" y2="355.2" stroke="#111" stroke-width="1.4"/>
<text x="238.5" y="358.9" font-size="10.3" text-anchor="end" textLength="31.0" lengthAdjust="spacingAndGlyphs" fill="#111" >15000</text>
<line x1="242.5" y1="333.6" x2="247.4" y2="333.6" stroke="#111" stroke-width="1.4"/>
<text x="238.5" y="337.3" font-size="10.3" text-anchor="end" textLength="31.0" lengthAdjust="spacingAndGlyphs" fill="#111" >20000</text>
<line x1="242.5" y1="312.0" x2="247.4" y2="312.0" stroke="#111" stroke-width="1.4"/>
<text x="238.5" y="315.7" font-size="10.3" text-anchor="end" textLength="31.0" lengthAdjust="spacingAndGlyphs" fill="#111" >25000</text>
<line x1="263.5" y1="420.0" x2="263.5" y2="424.4" stroke="#111" stroke-width="1.2999999999999998"/>
<line x1="311.1" y1="420.0" x2="311.1" y2="424.4" stroke="#111" stroke-width="1.2999999999999998"/>
<rect x="255.6" y="384.2" width="15.799999999999983" height="35.80000000000001" fill="#5c2a82" />
<line x1="263.5" y1="380.3" x2="263.5" y2="384.2" stroke="#111" stroke-width="1.4"/>
<line x1="259.25" y1="380.3" x2="267.75" y2="380.3" stroke="#111" stroke-width="1.4"/>
<rect x="303.4" y="344" width="15.400000000000034" height="76.0" fill="#1d568f" />
<line x1="311.1" y1="336" x2="311.1" y2="344" stroke="#111" stroke-width="1.4"/>
<line x1="306.85" y1="336" x2="315.35" y2="336" stroke="#111" stroke-width="1.4"/>
<text x="263.5" y="436.8" font-size="10.4" text-anchor="middle" textLength="22.3" lengthAdjust="spacingAndGlyphs" fill="#111" >CD4</text>
<text x="310.2" y="436.8" font-size="10.4" text-anchor="middle" textLength="41" lengthAdjust="spacingAndGlyphs" fill="#111" >NA-ATLL</text>
<text x="264" y="449.8" font-size="10.4" text-anchor="middle" textLength="20.6" lengthAdjust="spacingAndGlyphs" fill="#111" >N=4</text>
<text x="310.7" y="449.8" font-size="10.4" text-anchor="middle" textLength="20.6" lengthAdjust="spacingAndGlyphs" fill="#111" >N=9</text>
<text transform="translate(181.3,362.5) rotate(-90)" font-size="13.5" text-anchor="middle" textLength="68.5" lengthAdjust="spacingAndGlyphs" style="stroke-width:0.5px" fill="#111" ><tspan font-style="italic">ETS1</tspan> expression</text>
<text transform="translate(197.5,363.3) rotate(-90)" font-size="13.5" text-anchor="middle" textLength="101.5" lengthAdjust="spacingAndGlyphs" style="stroke-width:0.5px" fill="#111" >(normalized read counts)</text>
<text x="456.6" y="278.6" font-size="11.6" text-anchor="middle" textLength="126.3" lengthAdjust="spacingAndGlyphs" fill="#111" >J-ATLL primary tumors</text>
<text x="457" y="296.6" font-size="11.7" text-anchor="middle" font-style="italic" textLength="30" lengthAdjust="spacingAndGlyphs" fill="#111" >ETS1</text>
<text x="456.6" y="313.9" font-size="10.1" text-anchor="middle" textLength="41.8" lengthAdjust="spacingAndGlyphs" fill="#111" >P=0.004</text>
<line x1="417.6" y1="306.3" x2="417.6" y2="420.3" stroke="#111" stroke-width="1.4"/>
<line x1="412.70000000000005" y1="419.6" x2="497.5" y2="419.6" stroke="#111" stroke-width="1.5999999999999999"/>
<text x="408.0" y="423.3" font-size="10.3" text-anchor="end" textLength="5.8" lengthAdjust="spacingAndGlyphs" fill="#111" >0</text>
<line x1="412.70000000000005" y1="404.18" x2="417.6" y2="404.18" stroke="#111" stroke-width="1.4"/>
<text x="408.0" y="407.88" font-size="10.3" text-anchor="end" textLength="18.4" lengthAdjust="spacingAndGlyphs" fill="#111" >500</text>
<line x1="412.70000000000005" y1="388.76000000000005" x2="417.6" y2="388.76000000000005" stroke="#111" stroke-width="1.4"/>
<text x="408.0" y="392.46000000000004" font-size="10.3" text-anchor="end" textLength="24.7" lengthAdjust="spacingAndGlyphs" fill="#111" >1000</text>
<line x1="412.70000000000005" y1="373.34000000000003" x2="417.6" y2="373.34000000000003" stroke="#111" stroke-width="1.4"/>
<text x="408.0" y="377.04" font-size="10.3" text-anchor="end" textLength="24.7" lengthAdjust="spacingAndGlyphs" fill="#111" >1500</text>
<line x1="412.70000000000005" y1="357.92" x2="417.6" y2="357.92" stroke="#111" stroke-width="1.4"/>
<text x="408.0" y="361.62" font-size="10.3" text-anchor="end" textLength="24.7" lengthAdjust="spacingAndGlyphs" fill="#111" >2000</text>
<line x1="412.70000000000005" y1="342.5" x2="417.6" y2="342.5" stroke="#111" stroke-width="1.4"/>
<text x="408.0" y="346.2" font-size="10.3" text-anchor="end" textLength="24.7" lengthAdjust="spacingAndGlyphs" fill="#111" >2500</text>
<line x1="412.70000000000005" y1="327.08000000000004" x2="417.6" y2="327.08000000000004" stroke="#111" stroke-width="1.4"/>
<text x="408.0" y="330.78000000000003" font-size="10.3" text-anchor="end" textLength="24.7" lengthAdjust="spacingAndGlyphs" fill="#111" >3000</text>
<line x1="412.70000000000005" y1="311.66" x2="417.6" y2="311.66" stroke="#111" stroke-width="1.4"/>
<text x="408.0" y="315.36" font-size="10.3" text-anchor="end" textLength="24.7" lengthAdjust="spacingAndGlyphs" fill="#111" >3500</text>
<line x1="433.2" y1="419.6" x2="433.2" y2="424.0" stroke="#111" stroke-width="1.2999999999999998"/>
<line x1="480.5" y1="419.6" x2="480.5" y2="424.0" stroke="#111" stroke-width="1.2999999999999998"/>
<rect x="425.7" y="338.8" width="15.600000000000023" height="80.80000000000001" fill="#5c2a82" />
<line x1="433.5" y1="320.6" x2="433.5" y2="338.8" stroke="#111" stroke-width="1.4"/>
<line x1="429.25" y1="320.6" x2="437.75" y2="320.6" stroke="#111" stroke-width="1.4"/>
<rect x="472.7" y="364.3" width="15.5" height="55.30000000000001" fill="#ff9110" />
<line x1="480.45" y1="358.2" x2="480.45" y2="364.3" stroke="#111" stroke-width="1.4"/>
<line x1="476.2" y1="358.2" x2="484.7" y2="358.2" stroke="#111" stroke-width="1.4"/>
<text x="433.2" y="437" font-size="10.4" text-anchor="middle" textLength="22.5" lengthAdjust="spacingAndGlyphs" fill="#111" >CD4</text>
<text x="479.8" y="437" font-size="10.4" text-anchor="middle" textLength="30" lengthAdjust="spacingAndGlyphs" fill="#111" >J-ATLL</text>
<text x="432.9" y="450.1" font-size="10.4" text-anchor="middle" textLength="26.8" lengthAdjust="spacingAndGlyphs" fill="#111" >N=21</text>
<text x="480.5" y="450.1" font-size="10.4" text-anchor="middle" textLength="26.6" lengthAdjust="spacingAndGlyphs" fill="#111" >N=52</text>
<text transform="translate(374.2,365.5) rotate(-90)" font-size="13.5" text-anchor="middle" textLength="96" lengthAdjust="spacingAndGlyphs" style="stroke-width:0.5px" fill="#111" ><tspan font-style="italic">ETS1</tspan> expression value</text>
<text x="149" y="490" font-size="11.6" text-anchor="middle" textLength="127" lengthAdjust="spacingAndGlyphs" fill="#111" >J-ATLL primary tumors</text>
<line x1="77.4" y1="497.5" x2="77.4" y2="625.0" stroke="#111" stroke-width="1.4"/>
<line x1="72.5" y1="624.3" x2="221.5" y2="624.3" stroke="#111" stroke-width="1.5999999999999999"/>
<text x="68.5" y="628.0" font-size="10.3" text-anchor="end" textLength="5.6" lengthAdjust="spacingAndGlyphs" fill="#111" >0</text>
<line x1="72.5" y1="607.15" x2="77.4" y2="607.15" stroke="#111" stroke-width="1.4"/>
<text x="68.5" y="610.85" font-size="10.3" text-anchor="end" textLength="5.6" lengthAdjust="spacingAndGlyphs" fill="#111" >2</text>
<line x1="72.5" y1="590.0" x2="77.4" y2="590.0" stroke="#111" stroke-width="1.4"/>
<text x="68.5" y="593.7" font-size="10.3" text-anchor="end" textLength="5.6" lengthAdjust="spacingAndGlyphs" fill="#111" >4</text>
<line x1="72.5" y1="572.8499999999999" x2="77.4" y2="572.8499999999999" stroke="#111" stroke-width="1.4"/>
<text x="68.5" y="576.55" font-size="10.3" text-anchor="end" textLength="5.6" lengthAdjust="spacingAndGlyphs" fill="#111" >6</text>
<line x1="72.5" y1="555.6999999999999" x2="77.4" y2="555.6999999999999" stroke="#111" stroke-width="1.4"/>
<text x="68.5" y="559.4" font-size="10.3" text-anchor="end" textLength="5.6" lengthAdjust="spacingAndGlyphs" fill="#111" >8</text>
<line x1="72.5" y1="538.55" x2="77.4" y2="538.55" stroke="#111" stroke-width="1.4"/>
<text x="68.5" y="542.25" font-size="10.3" text-anchor="end" textLength="11.7" lengthAdjust="spacingAndGlyphs" fill="#111" >10</text>
<line x1="72.5" y1="521.4" x2="77.4" y2="521.4" stroke="#111" stroke-width="1.4"/>
<text x="68.5" y="525.1" font-size="10.3" text-anchor="end" textLength="11.7" lengthAdjust="spacingAndGlyphs" fill="#111" >12</text>
<line x1="72.5" y1="504.25" x2="77.4" y2="504.25" stroke="#111" stroke-width="1.4"/>
<text x="68.5" y="507.95" font-size="10.3" text-anchor="end" textLength="11.7" lengthAdjust="spacingAndGlyphs" fill="#111" >14</text>
<line x1="102.3" y1="624.3" x2="102.3" y2="628.6999999999999" stroke="#111" stroke-width="1.2999999999999998"/>
<line x1="149.4" y1="624.3" x2="149.4" y2="628.6999999999999" stroke="#111" stroke-width="1.2999999999999998"/>
<line x1="196.2" y1="624.3" x2="196.2" y2="628.6999999999999" stroke="#111" stroke-width="1.2999999999999998"/>
<line x1="102.4" y1="517.5" x2="102.4" y2="526.8" stroke="#111" stroke-width="1.4"/>
<line x1="97.9" y1="517.5" x2="106.9" y2="517.5" stroke="#111" stroke-width="1.4"/>
<line x1="102.4" y1="551.5" x2="102.4" y2="565.2" stroke="#111" stroke-width="1.4"/>
<line x1="97.9" y1="565.2" x2="106.9" y2="565.2" stroke="#111" stroke-width="1.4"/>
<rect x="92.2" y="526.8" width="20.4" height="24.700000000000045" fill="#efa5b0" />
<line x1="91.9" y1="534.7" x2="112.9" y2="534.7" stroke="#111" stroke-width="1.8"/>
<path d="M100.10000000000001 533.9000000000001 L104.7 538.5 M100.10000000000001 538.5 L104.7 533.9000000000001" stroke="#c5143c" stroke-width="1.5" fill="none"/>
<line x1="149.5" y1="518.3" x2="149.5" y2="527.6" stroke="#111" stroke-width="1.4"/>
<line x1="145.0" y1="518.3" x2="154.0" y2="518.3" stroke="#111" stroke-width="1.4"/>
<rect x="139.1" y="527.6" width="20.8" height="9.5" fill="#a9c9e6" />
<line x1="138.79999999999998" y1="531" x2="160.20000000000002" y2="531" stroke="#111" stroke-width="1.8"/>
<path d="M147.2 532.9000000000001 L151.8 537.5 M147.2 537.5 L151.8 532.9000000000001" stroke="#1d568f" stroke-width="1.5" fill="none"/>
<circle cx="149.5" cy="554.3" r="2.3" fill="#1d568f"/>
<circle cx="149.5" cy="558.2" r="2.3" fill="#1d568f"/>
<circle cx="149.5" cy="562.3" r="2.3" fill="#1d568f"/>
<line x1="196.5" y1="529.5" x2="196.5" y2="533.5" stroke="#111" stroke-width="1.4"/>
<line x1="192.0" y1="529.5" x2="201.0" y2="529.5" stroke="#111" stroke-width="1.4"/>
<line x1="196.5" y1="568" x2="196.5" y2="571" stroke="#111" stroke-width="1.4"/>
<line x1="192.0" y1="571" x2="201.0" y2="571" stroke="#111" stroke-width="1.4"/>
<rect x="186.0" y="533.5" width="21.0" height="34.5" fill="#b5e3bb" />
<line x1="185.7" y1="551" x2="207.3" y2="551" stroke="#111" stroke-width="1.8"/>
<path d="M194.2 548.7 L198.8 553.3 M194.2 553.3 L198.8 548.7" stroke="#3fb550" stroke-width="1.5" fill="none"/>
<text x="102.7" y="640.6" font-size="10.4" text-anchor="middle" textLength="27.3" lengthAdjust="spacingAndGlyphs" fill="#111" >Acute</text>
<text x="149.5" y="640.6" font-size="10.4" text-anchor="middle" textLength="28.6" lengthAdjust="spacingAndGlyphs" fill="#111" >Chron</text>
<text x="196.9" y="640.6" font-size="10.4" text-anchor="middle" textLength="23.1" lengthAdjust="spacingAndGlyphs" fill="#111" >Smol</text>
<text x="149" y="657.6" font-size="13.5" text-anchor="middle" textLength="32" lengthAdjust="spacingAndGlyphs" fill="#111" style="stroke-width:0.5px">Subtype</text>
<text transform="translate(47.9,561.7) rotate(-90)" font-size="13.5" text-anchor="middle" textLength="93.5" lengthAdjust="spacingAndGlyphs" style="stroke-width:0.5px" fill="#111" ><tspan font-style="italic">ETS1</tspan> expression (log<tspan font-size="8.5" dy="2">2</tspan><tspan dy="-2">)</tspan></text>
<text x="369.5" y="490" font-size="11.6" text-anchor="middle" textLength="126.5" lengthAdjust="spacingAndGlyphs" fill="#111" >J-ATLL primary tumors</text>
<text x="369.3" y="507.2" font-size="10.1" text-anchor="middle" textLength="49.5" lengthAdjust="spacingAndGlyphs" fill="#111" >P=0.0018</text>
<line x1="296.8" y1="497.5" x2="296.8" y2="625.0" stroke="#111" stroke-width="1.4"/>
<line x1="291.90000000000003" y1="624.3" x2="441.5" y2="624.3" stroke="#111" stroke-width="1.5999999999999999"/>
<text x="288.8" y="628.0" font-size="10.3" text-anchor="end" textLength="5.5" lengthAdjust="spacingAndGlyphs" fill="#111" >0</text>
<line x1="291.90000000000003" y1="607.15" x2="296.8" y2="607.15" stroke="#111" stroke-width="1.4"/>
<text x="288.8" y="610.85" font-size="10.3" text-anchor="end" textLength="5.5" lengthAdjust="spacingAndGlyphs" fill="#111" >2</text>
<line x1="291.90000000000003" y1="590.0" x2="296.8" y2="590.0" stroke="#111" stroke-width="1.4"/>
<text x="288.8" y="593.7" font-size="10.3" text-anchor="end" textLength="5.5" lengthAdjust="spacingAndGlyphs" fill="#111" >4</text>
<line x1="291.90000000000003" y1="572.8499999999999" x2="296.8" y2="572.8499999999999" stroke="#111" stroke-width="1.4"/>
<text x="288.8" y="576.55" font-size="10.3" text-anchor="end" textLength="5.5" lengthAdjust="spacingAndGlyphs" fill="#111" >6</text>
<line x1="291.90000000000003" y1="555.6999999999999" x2="296.8" y2="555.6999999999999" stroke="#111" stroke-width="1.4"/>
<text x="288.8" y="559.4" font-size="10.3" text-anchor="end" textLength="5.5" lengthAdjust="spacingAndGlyphs" fill="#111" >8</text>
<line x1="291.90000000000003" y1="538.55" x2="296.8" y2="538.55" stroke="#111" stroke-width="1.4"/>
<text x="288.8" y="542.25" font-size="10.3" text-anchor="end" textLength="11.5" lengthAdjust="spacingAndGlyphs" fill="#111" >10</text>
<line x1="291.90000000000003" y1="521.4" x2="296.8" y2="521.4" stroke="#111" stroke-width="1.4"/>
<text x="288.8" y="525.1" font-size="10.3" text-anchor="end" textLength="11.5" lengthAdjust="spacingAndGlyphs" fill="#111" >12</text>
<line x1="291.90000000000003" y1="504.25" x2="296.8" y2="504.25" stroke="#111" stroke-width="1.4"/>
<text x="288.8" y="507.95" font-size="10.3" text-anchor="end" textLength="11.5" lengthAdjust="spacingAndGlyphs" fill="#111" >14</text>
<line x1="331.5" y1="624.3" x2="331.5" y2="628.6999999999999" stroke="#111" stroke-width="1.2999999999999998"/>
<line x1="407.5" y1="624.3" x2="407.5" y2="628.6999999999999" stroke="#111" stroke-width="1.2999999999999998"/>
<line x1="331.5" y1="525.5" x2="331.5" y2="531" stroke="#111" stroke-width="1.4"/>
<line x1="327.0" y1="525.5" x2="336.0" y2="525.5" stroke="#111" stroke-width="1.4"/>
<line x1="331.5" y1="555.9" x2="331.5" y2="571.3" stroke="#111" stroke-width="1.4"/>
<line x1="327.0" y1="571.3" x2="336.0" y2="571.3" stroke="#111" stroke-width="1.4"/>
<rect x="321.2" y="531" width="20.6" height="24.899999999999977" fill="#a6c0da" />
<line x1="320.9" y1="541.2" x2="342.1" y2="541.2" stroke="#111" stroke-width="1.8"/>
<path d="M329.2 541.0 L333.8 545.5999999999999 M329.2 545.5999999999999 L333.8 541.0" stroke="#1d568f" stroke-width="1.5" fill="none"/>
<line x1="407.5" y1="518" x2="407.5" y2="525.5" stroke="#111" stroke-width="1.4"/>
<line x1="403.0" y1="518" x2="412.0" y2="518" stroke="#111" stroke-width="1.4"/>
<line x1="407.5" y1="533.5" x2="407.5" y2="538.7" stroke="#111" stroke-width="1.4"/>
<line x1="403.0" y1="538.7" x2="412.0" y2="538.7" stroke="#111" stroke-width="1.4"/>
<rect x="397.0" y="525.5" width="21.0" height="8.0" fill="#f3a8b4" />
<line x1="396.7" y1="528.8" x2="418.3" y2="528.8" stroke="#111" stroke-width="1.8"/>
<path d="M405.2 529.0 L409.8 533.5999999999999 M405.2 533.5999999999999 L409.8 529.0" stroke="#c5143c" stroke-width="1.5" fill="none"/>
<circle cx="407.5" cy="552.5" r="2.3" fill="#c5143c"/>
<circle cx="407.5" cy="565.5" r="2.3" fill="#c5143c"/>
<text x="331.5" y="640.5" font-size="10.5" text-anchor="middle" textLength="19" lengthAdjust="spacingAndGlyphs" fill="#111" >Low</text>
<text x="407.6" y="640.5" font-size="10.5" text-anchor="middle" textLength="21.5" lengthAdjust="spacingAndGlyphs" fill="#111" >High</text>
<text x="368.2" y="657.6" font-size="13.5" text-anchor="middle" textLength="133.5" lengthAdjust="spacingAndGlyphs" fill="#111" style="stroke-width:0.5px">Proviral load (%; median cut-off)</text>
<text transform="translate(270,561.5) rotate(-90)" font-size="13.5" text-anchor="middle" textLength="93.5" lengthAdjust="spacingAndGlyphs" style="stroke-width:0.5px" fill="#111" ><tspan font-style="italic">ETS1</tspan> expression (log<tspan font-size="8.5" dy="2">2</tspan><tspan dy="-2">)</tspan></text>
</svg>
</body></html>
